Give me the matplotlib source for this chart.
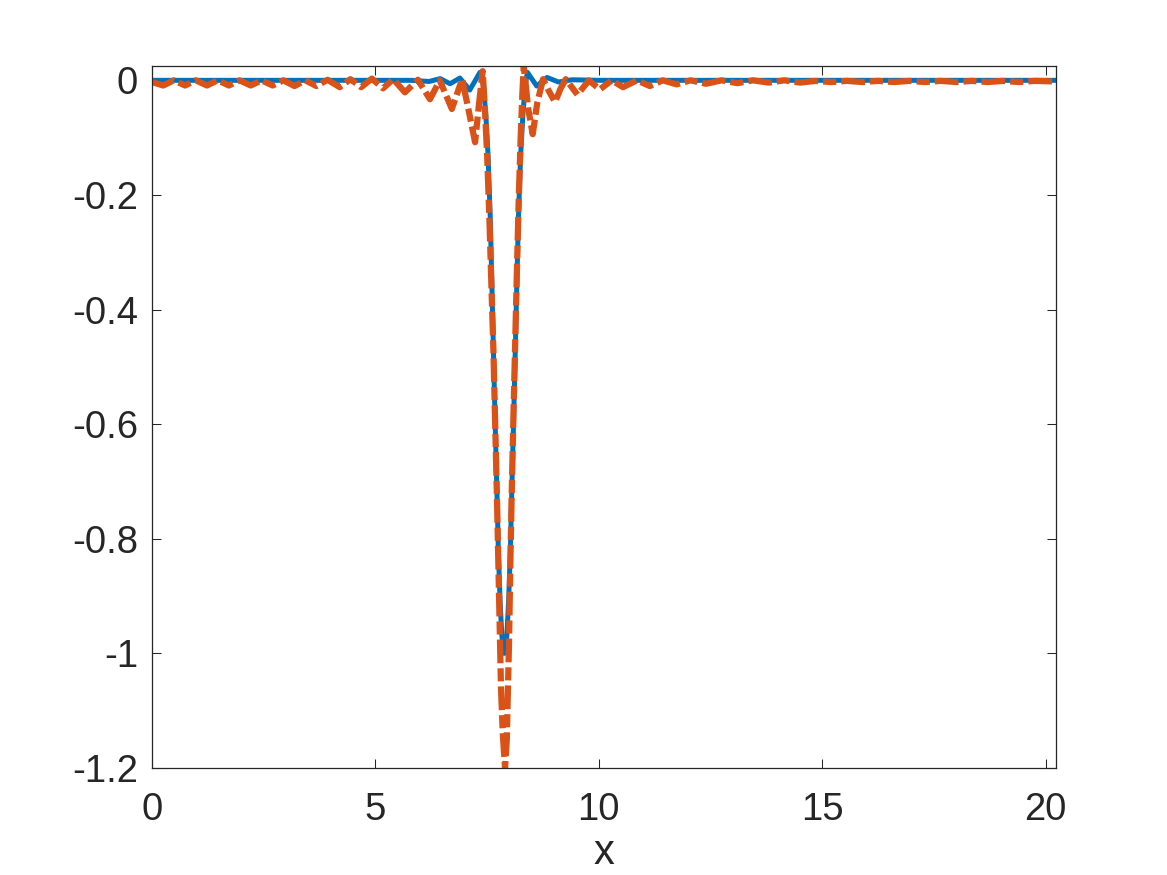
"""
Soliton profile: exact solution vs. numerical approximation
"""

import matplotlib
matplotlib.use('Agg')
import matplotlib.pyplot as plt

# exact profile (solid blue)
exact_x = [0.0, 5.0, 5.8, 6.2, 6.45, 6.67, 6.89, 7.11, 7.34, 7.42, 7.47, 7.52,
           7.57, 7.61, 7.64, 7.68, 7.72, 7.75, 7.79, 7.83, 7.885, 7.94, 7.98,
           8.02, 8.05, 8.09, 8.13, 8.16, 8.20, 8.25, 8.30, 8.35, 8.40, 8.61,
           8.84, 9.1, 9.4, 10.0, 20.23]
exact_y = [0.0, 0.0, 0.0, -0.002, 0.003, -0.006, 0.004, -0.017, 0.014, -0.01,
           -0.06, -0.13, -0.24, -0.37, -0.47, -0.6, -0.72, -0.82, -0.91, -0.97,
           -1.0, -0.97, -0.91, -0.82, -0.72, -0.6, -0.47, -0.37, -0.24, -0.13,
           -0.06, -0.01, 0.014, -0.01, 0.005, -0.003, 0.001, 0.0, 0.0]

# numerical profile (dashed orange)
approx_x = [0.0, 0.25, 0.49, 0.74, 0.98, 1.23, 1.47, 1.72, 1.96, 2.21, 2.45,
            2.70, 2.94, 3.19, 3.43, 3.68, 3.93, 4.20, 4.44, 4.68, 4.92, 5.17,
            5.40, 5.66, 5.95, 6.22, 6.44, 6.71, 6.94, 7.08, 7.23, 7.32, 7.40,
            7.45, 7.50, 7.55, 7.60, 7.64, 7.68, 7.72, 7.75, 7.78, 7.81, 7.85,
            7.90, 7.94, 7.96, 7.99, 8.02, 8.05, 8.09, 8.13, 8.17, 8.21, 8.25,
            8.29, 8.32, 8.42, 8.52, 8.62, 8.75, 8.89, 9.02, 9.14, 9.26, 9.52,
            9.78, 10.02, 10.29, 10.54, 10.85, 11.14, 11.43, 11.74, 12.05,
            12.4, 12.75, 13.1, 13.45, 13.8, 14.15, 14.5, 14.85, 15.2, 15.55,
            15.9, 16.25, 16.6, 16.95, 17.3, 17.65, 18.0, 18.35, 18.7, 19.05,
            19.4, 19.75, 20.23]
approx_y = [-0.003, -0.009, 0.0, -0.009, 0.0, -0.009, 0.0, -0.009, 0.0,
            -0.009, 0.0, -0.009, 0.0, -0.01, 0.0, -0.01, 0.001, -0.012, 0.002,
            -0.012, 0.003, -0.014, 0.002, -0.021, 0.001, -0.033, 0.0, -0.05,
            0.002, -0.05, -0.108, -0.04, 0.016, -0.05, -0.13, -0.24, -0.37,
            -0.47, -0.6, -0.73, -0.84, -0.95, -1.06, -1.14, -1.2, -1.15, -1.08,
            -0.98, -0.84, -0.72, -0.58, -0.45, -0.32, -0.2, -0.1, -0.02, 0.025,
            -0.05, -0.094, -0.04, 0.002, -0.02, -0.038, -0.015, 0.002, -0.025,
            0.0, -0.016, 0.0, -0.012, 0.0, -0.01, 0.0, -0.007, 0.0, -0.006,
            0.0, -0.005, 0.0, -0.004, 0.0, -0.004, -0.001, -0.003, -0.001,
            -0.003, -0.001, -0.003, -0.001, -0.003, -0.001, -0.003, -0.001,
            -0.003, -0.001, -0.003, -0.001, -0.002]

x_ticks = [0, 5, 10, 15, 20]
y_ticks = [-1.2, -1.0, -0.8, -0.6, -0.4, -0.2, 0.0]
y_tick_labels = ['-1.2', '-1', '-0.8', '-0.6', '-0.4', '-0.2', '0']

BLUE = '#0072BD'
ORANGE = '#D95319'
AXIS_COLOR = '#262626'

plt.rcParams['font.family'] = ['Liberation Sans', 'DejaVu Sans']

fig = plt.figure(figsize=(11.67, 8.75), dpi=100)
ax = fig.add_axes([152 / 1167, (875 - 768) / 875, (1056 - 152) / 1167, (768 - 66) / 875])

ax.plot(exact_x, exact_y, color=BLUE, linewidth=3.6, solid_joinstyle='round')
ax.plot(approx_x, approx_y, color=ORANGE, linewidth=4.5,
        linestyle=(0, (3.8, 0.8, 2.1, 0.8)), dash_capstyle='butt')

ax.set_xlim(0, 20.23)
ax.set_ylim(-1.2, 0.025)
ax.set_xticks(x_ticks)
ax.set_xticklabels([str(t) for t in x_ticks])
ax.set_yticks(y_ticks)
ax.set_yticklabels(y_tick_labels)

ax.tick_params(axis='both', which='major', direction='in', length=6.5, width=0.75,
               top=True, right=True, colors=AXIS_COLOR, labelsize=27.5)
ax.tick_params(axis='x', pad=17)
ax.tick_params(axis='y', pad=10)
for spine in ax.spines.values():
    spine.set_color(AXIS_COLOR)
    spine.set_linewidth(0.9)

ax.set_xlabel('x', fontsize=30, color=AXIS_COLOR, labelpad=4)

fig.savefig('out.png', dpi=100)
plt.close(fig)
